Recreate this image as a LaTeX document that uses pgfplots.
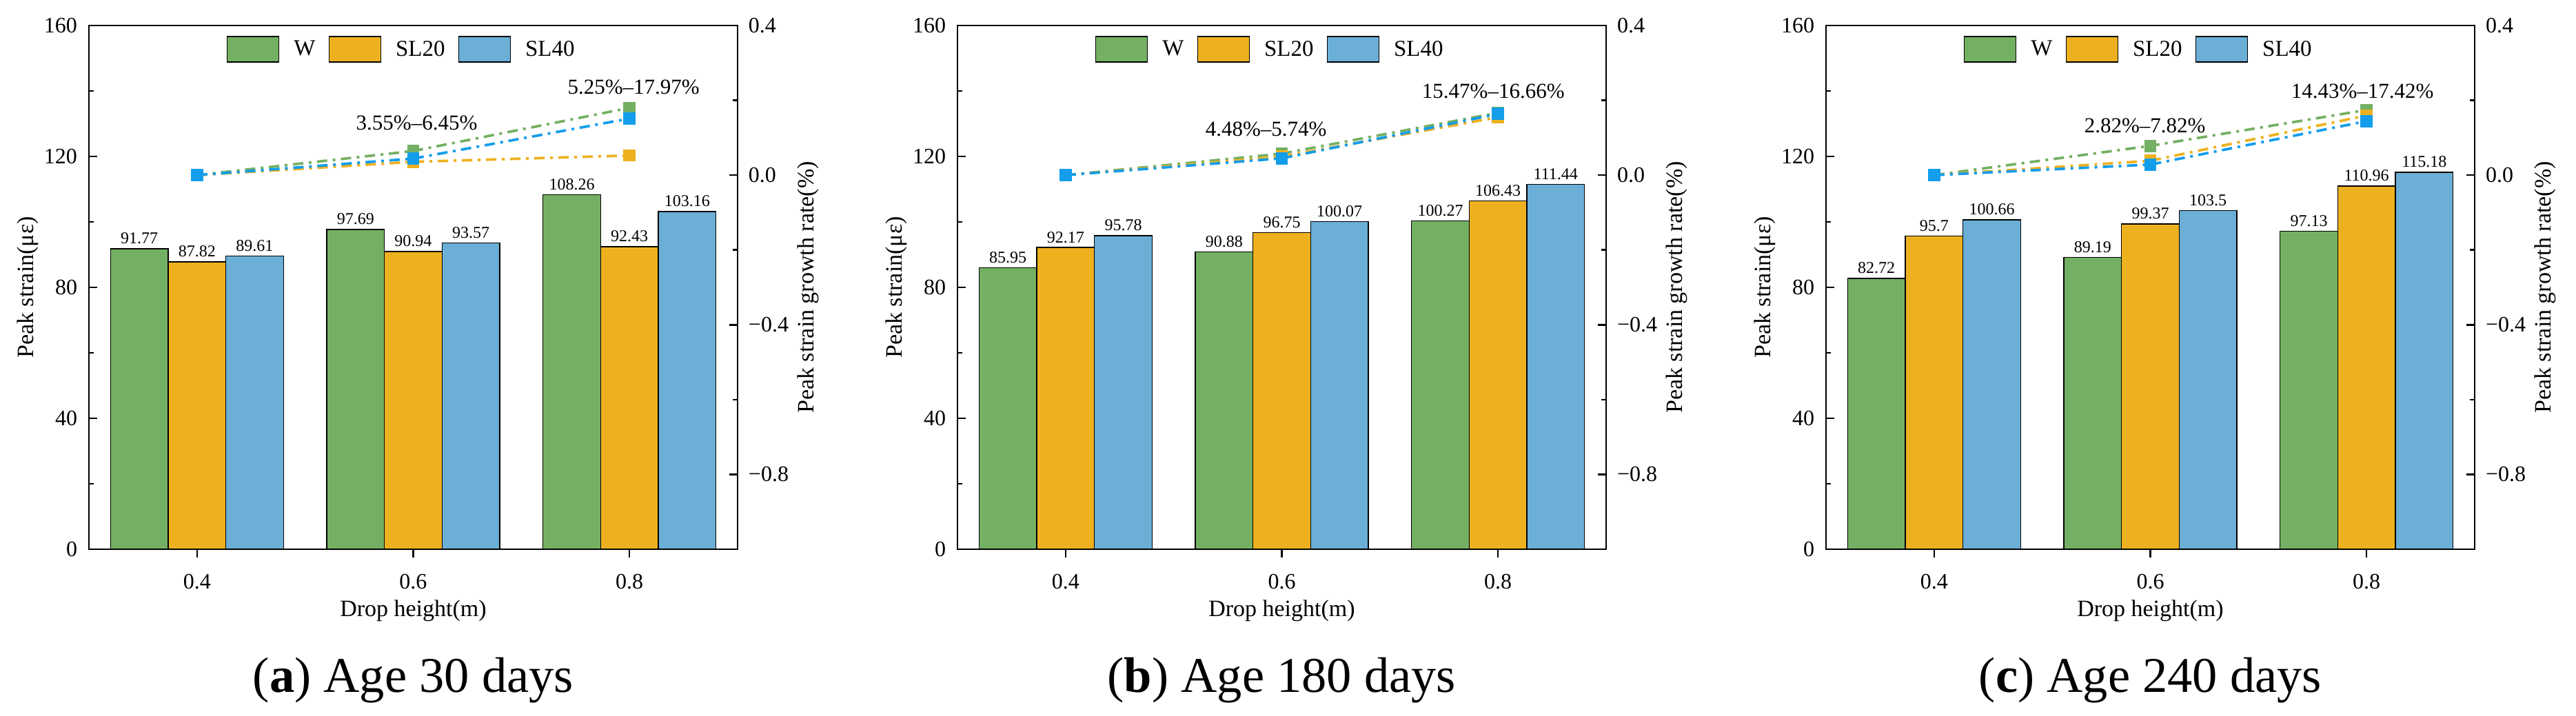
\documentclass[border=0pt]{standalone}
\usepackage{fontspec}
\setmainfont{Liberation Serif}
\usepackage{pgfplots}
\pgfplotsset{compat=1.18}
\definecolor{cW}{RGB}{116,176,99}
\definecolor{cS2}{RGB}{237,177,32}
\definecolor{cS4}{RGB}{107,174,214}
\definecolor{lW}{RGB}{116,176,99}
\definecolor{lS2}{RGB}{237,177,32}
\definecolor{lS4}{RGB}{20,157,235}
\pgfplotsset{
 common/.style={
  scale only axis, width=188.2pt, height=152pt, anchor=south west,
  xmin=-0.5, xmax=2.5,
  tick align=inside,
  major tick length=2.4pt, minor tick length=1.4pt,
  axis line style={line width=0.5pt},
  every tick/.style={black,line width=0.5pt},
  ticklabel style={font=\fontsize{6.4}{7}\selectfont},
  /pgf/number format/assume math mode=true,
  label style={font=\fontsize{6.8}{8}\selectfont},
 },
 L/.style={
  common,
  ymin=0, ymax=160,
  xtick={0,1,2}, xticklabels={0.4,0.6,0.8},
  ytick={0,40,80,120,160}, yticklabels={0,40,80,120,160}, minor y tick num=1,
  xtick pos=bottom, ytick pos=left,
  xticklabel style={anchor=north, inner sep=0pt, yshift=-4.6pt},
  yticklabel style={anchor=east, inner sep=0pt, xshift=-3.2pt},
  xlabel={Drop height(m)}, ylabel={Peak strain(με)},
  xlabel style={at={(axis description cs:0.5,-0.1171)}, anchor=center},
  ylabel style={at={(axis description cs:-0.0946,0.5)}, anchor=center},
  ybar, bar width=0.2667,
  nodes near coords, point meta=explicit symbolic,
  nodes near coords style={font=\fontsize{4.8}{5}\selectfont, inner sep=0pt, anchor=south, yshift=1.2pt},
  legend columns=3,
  legend style={draw=none, fill=none, at={(0.486,0.984)}, anchor=north,
    inner sep=0pt, outer sep=0pt, font=\fontsize{6.6}{7}\selectfont,
    /tikz/every odd column/.style={column sep=2.2pt},
    /tikz/every even column/.style={column sep=1.8pt}},
 },
 R/.style={
  common,
  ymin=-1, ymax=0.4,
  axis y line*=right, axis x line=none,
  ytick={-0.8,-0.4,0,0.4}, yticklabels={−0.8,−0.4,0.0,0.4}, minor y tick num=1,
  yticklabel style={anchor=west, inner sep=0pt, xshift=3pt},
  ylabel={Peak strain growth rate(\%)},
  ylabel style={at={(axis description cs:1.1084,0.5)}, anchor=center},
 },
 barW/.style={fill=cW, draw=black, line width=0.3pt, bar shift=-0.2667,
   legend image code/.code={\draw[fill=cW,draw=black,line width=0.3pt] (0pt,-3.2pt) rectangle (15pt,4.2pt);}},
 barS2/.style={fill=cS2, draw=black, line width=0.3pt, bar shift=0,
   legend image code/.code={\draw[fill=cS2,draw=black,line width=0.3pt] (0pt,-3.2pt) rectangle (15pt,4.2pt);}},
 barS4/.style={fill=cS4, draw=black, line width=0.3pt, bar shift=0.2667,
   legend image code/.code={\draw[fill=cS4,draw=black,line width=0.3pt] (0pt,-3.2pt) rectangle (15pt,4.2pt);}},
 ln/.style={#1, line width=0.75pt, dash pattern=on 3pt off 1.6pt on 0.8pt off 1.6pt,
   mark=square*, mark size=1.4pt, mark options={solid, draw=none, fill=#1}},
}
\begin{document}
\begin{tikzpicture}
\useasboundingbox (0,0) rectangle (747.4pt,207.8pt);
% ---------------- (a) ----------------
\begin{axis}[L, at={(25.8pt,48.4pt)}]
\addplot[barW] coordinates {(0,91.77) [91.77] (1,97.69) [97.69] (2,108.26) [108.26]};
\addplot[barS2] coordinates {(0,87.82) [87.82] (1,90.94) [90.94] (2,92.43) [92.43]};
\addplot[barS4] coordinates {(0,89.61) [89.61] (1,93.57) [93.57] (2,103.16) [103.16]};
\legend{W,SL20,SL40}
\end{axis}
\begin{axis}[R, at={(25.8pt,48.4pt)}]
\addplot[ln=lW] coordinates {(0,0) (1,0.0645) (2,0.1797)};
\addplot[ln=lS2] coordinates {(0,0) (1,0.0355) (2,0.0525)};
\addplot[ln=lS4] coordinates {(0,0) (1,0.0442) (2,0.1512)};
\node[font=\fontsize{6.2}{7}\selectfont] at (axis cs:1.016,0.140) {3.55\%–6.45\%};
\node[font=\fontsize{6.2}{7}\selectfont] at (axis cs:2.019,0.236) {5.25\%–17.97\%};
\end{axis}
\node[font=\fontsize{14.5}{16}\selectfont, anchor=base] at (119.9pt,6.8pt) {(\textbf{a}) Age 30 days};
% ---------------- (b) ----------------
\begin{axis}[L, at={(277.8pt,48.4pt)}]
\addplot[barW] coordinates {(0,85.95) [85.95] (1,90.88) [90.88] (2,100.27) [100.27]};
\addplot[barS2] coordinates {(0,92.17) [92.17] (1,96.75) [96.75] (2,106.43) [106.43]};
\addplot[barS4] coordinates {(0,95.78) [95.78] (1,100.07) [100.07] (2,111.44) [111.44]};
\legend{W,SL20,SL40}
\end{axis}
\begin{axis}[R, at={(277.8pt,48.4pt)}]
\addplot[ln=lW] coordinates {(0,0) (1,0.0574) (2,0.1666)};
\addplot[ln=lS2] coordinates {(0,0) (1,0.0497) (2,0.1547)};
\addplot[ln=lS4] coordinates {(0,0) (1,0.0448) (2,0.1635)};
\node[font=\fontsize{6.2}{7}\selectfont] at (axis cs:0.927,0.122) {4.48\%–5.74\%};
\node[font=\fontsize{6.2}{7}\selectfont] at (axis cs:1.978,0.225) {15.47\%–16.66\%};
\end{axis}
\node[font=\fontsize{14.5}{16}\selectfont, anchor=base] at (371.9pt,6.8pt) {(\textbf{b}) Age 180 days};
% ---------------- (c) ----------------
\begin{axis}[L, at={(529.8pt,48.4pt)}]
\addplot[barW] coordinates {(0,82.72) [82.72] (1,89.19) [89.19] (2,97.13) [97.13]};
\addplot[barS2] coordinates {(0,95.7) [95.7] (1,99.37) [99.37] (2,110.96) [110.96]};
\addplot[barS4] coordinates {(0,100.66) [100.66] (1,103.5) [103.5] (2,115.18) [115.18]};
\legend{W,SL20,SL40}
\end{axis}
\begin{axis}[R, at={(529.8pt,48.4pt)}]
\addplot[ln=lW] coordinates {(0,0) (1,0.0782) (2,0.1742)};
\addplot[ln=lS2] coordinates {(0,0) (1,0.0383) (2,0.1595)};
\addplot[ln=lS4] coordinates {(0,0) (1,0.0282) (2,0.1443)};
\node[font=\fontsize{6.2}{7}\selectfont] at (axis cs:0.975,0.133) {2.82\%–7.82\%};
\node[font=\fontsize{6.2}{7}\selectfont] at (axis cs:1.981,0.225) {14.43\%–17.42\%};
\end{axis}
\node[font=\fontsize{14.5}{16}\selectfont, anchor=base] at (623.9pt,6.8pt) {(\textbf{c}) Age 240 days};
\end{tikzpicture}
\end{document}
